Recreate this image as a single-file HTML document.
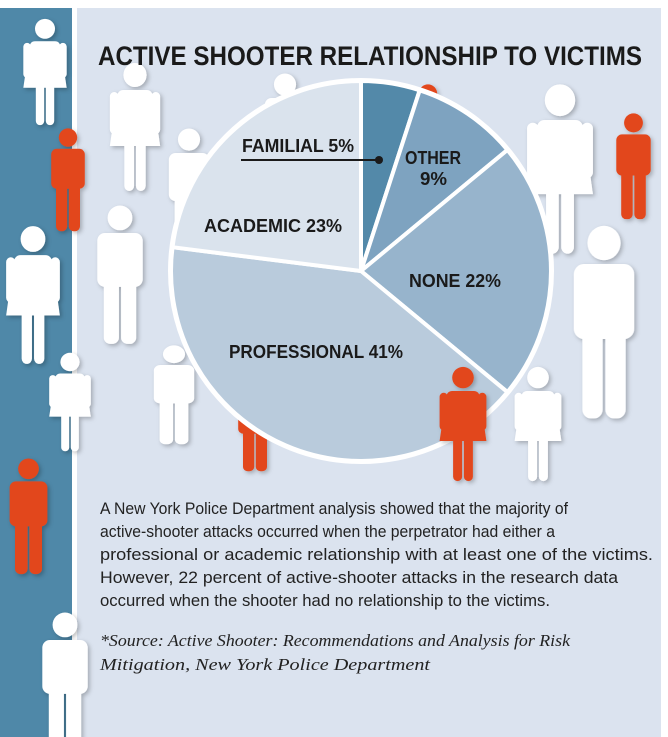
<!DOCTYPE html>
<html><head><meta charset="utf-8"><style>
html,body{margin:0;padding:0;background:#fff;}
svg{display:block;}
</style></head><body>
<svg width="668" height="737" viewBox="0 0 668 737" xmlns="http://www.w3.org/2000/svg">
<defs>
<symbol id="m" viewBox="0 0 50 130" preserveAspectRatio="none">
<circle cx="25" cy="12" r="11.5"/>
<rect x="4" y="26" width="42" height="50" rx="7"/>
<rect x="10" y="60" width="14" height="69" rx="6"/>
<rect x="26" y="60" width="14" height="69" rx="6"/>
</symbol>
<symbol id="f" viewBox="0 0 60 130" preserveAspectRatio="none">
<circle cx="30" cy="13" r="12"/>
<rect x="4" y="30" width="9" height="42" rx="4.5"/>
<rect x="47" y="30" width="9" height="42" rx="4.5"/>
<path d="M18 28 H42 Q48 28 49 36 L56 84 H4 L11 36 Q12 28 18 28Z"/>
<rect x="19" y="78" width="10" height="51" rx="5"/>
<rect x="31" y="78" width="10" height="51" rx="5"/>
</symbol>
<filter id="sh" x="-20%" y="-20%" width="140%" height="140%"><feDropShadow dx="2" dy="2" stdDeviation="2" flood-color="#000" flood-opacity="0.25"/></filter>
</defs>
<rect width="668" height="737" fill="#fff"/>
<rect x="0" y="8" width="72" height="729" fill="#4f88a8"/>
<rect x="77" y="8" width="584" height="729" fill="#dbe3ef"/>

<g filter="url(#sh)">
<use href="#m" x="261" y="73" width="48" height="125" fill="#fff"/>
<use href="#m" x="408" y="84" width="40" height="105" fill="#e2471f"/>
<use href="#m" x="165" y="128" width="48" height="125" fill="#fff"/>
<use href="#m" x="150" y="345" width="48" height="100" fill="#fff"/>
<use href="#m" x="235" y="380" width="40" height="92" fill="#e2471f"/>
<use href="#f" x="20" y="18" width="50" height="108" fill="#fff"/>
<use href="#m" x="48" y="128" width="40" height="104" fill="#e2471f"/>
<use href="#f" x="106" y="62" width="58" height="130" fill="#fff"/>
<use href="#m" x="93" y="205" width="54" height="140" fill="#fff"/>
<use href="#f" x="2" y="225" width="62" height="140" fill="#fff"/>
<use href="#f" x="46" y="352" width="48" height="100" fill="#fff"/>
<use href="#m" x="6" y="458" width="45" height="117" fill="#e2471f"/>
<use href="#m" x="38" y="612" width="54" height="140" fill="#fff"/>
<use href="#f" x="522" y="83" width="76" height="172" fill="#fff"/>
<use href="#m" x="613" y="113" width="41" height="107" fill="#e2471f"/>
<use href="#m" x="568" y="225" width="72" height="195" fill="#fff"/>
</g>

<g stroke="#fff" stroke-width="4" stroke-linejoin="round">
<path d="M361 271 L361 81 A190 190 0 0 1 419.7 90.3 Z" fill="#5389a9"/>
<path d="M361 271 L419.7 90.3 A190 190 0 0 1 507.4 149.9 Z" fill="#7ea3c0"/>
<path d="M361 271 L507.4 149.9 A190 190 0 0 1 507.4 392.1 Z" fill="#97b4cc"/>
<path d="M361 271 L507.4 392.1 A190 190 0 0 1 172.5 247.2 Z" fill="#b9cbdc"/>
<path d="M361 271 L172.5 247.2 A190 190 0 0 1 361 81 Z" fill="#dae3ed"/>
</g>
<circle cx="361" cy="271" r="191" fill="none" stroke="#fff" stroke-width="4"/>

<g filter="url(#sh)">
<use href="#f" x="436" y="366" width="54" height="116" fill="#e2471f"/>
<use href="#f" x="511" y="366" width="54" height="116" fill="#fff"/>
</g>

<g font-family="Liberation Sans, sans-serif" font-weight="bold" fill="#1a1a1a">
<text x="98" y="65" font-size="27" textLength="544" lengthAdjust="spacingAndGlyphs">ACTIVE SHOOTER RELATIONSHIP TO VICTIMS</text>
<text x="242" y="152" font-size="18" textLength="112" lengthAdjust="spacingAndGlyphs">FAMILIAL 5%</text>
<text x="405" y="164" font-size="18" textLength="56" lengthAdjust="spacingAndGlyphs">OTHER</text>
<text x="420" y="185" font-size="18" textLength="27" lengthAdjust="spacingAndGlyphs">9%</text>
<text x="204" y="232" font-size="18" textLength="138" lengthAdjust="spacingAndGlyphs">ACADEMIC 23%</text>
<text x="409" y="287" font-size="18" textLength="92" lengthAdjust="spacingAndGlyphs">NONE 22%</text>
<text x="229" y="358" font-size="18" textLength="174" lengthAdjust="spacingAndGlyphs">PROFESSIONAL 41%</text>
</g>
<line x1="241" y1="160" x2="378" y2="160" stroke="#1a1a1a" stroke-width="2"/>
<circle cx="379" cy="160" r="4" fill="#1a1a1a"/>

<g font-family="Liberation Sans, sans-serif" font-size="17" fill="#222">
<text x="100" y="514" textLength="468" lengthAdjust="spacingAndGlyphs">A New York Police Department analysis showed that the majority of</text>
<text x="100" y="537" textLength="455" lengthAdjust="spacingAndGlyphs">active-shooter attacks occurred when the perpetrator had either a</text>
<text x="100" y="560" textLength="553" lengthAdjust="spacingAndGlyphs">professional or academic relationship with at least one of the victims.</text>
<text x="100" y="583" textLength="518" lengthAdjust="spacingAndGlyphs">However, 22 percent of active-shooter attacks in the research data</text>
<text x="100" y="606" textLength="450" lengthAdjust="spacingAndGlyphs">occurred when the shooter had no relationship to the victims.</text>
</g>
<g font-family="Liberation Serif, serif" font-style="italic" font-size="17" fill="#222">
<text x="100" y="646" textLength="470" lengthAdjust="spacingAndGlyphs">*Source: Active Shooter: Recommendations and Analysis for Risk</text>
<text x="100" y="670" textLength="330" lengthAdjust="spacingAndGlyphs">Mitigation, New York Police Department</text>
</g>
</svg>
</body></html>
